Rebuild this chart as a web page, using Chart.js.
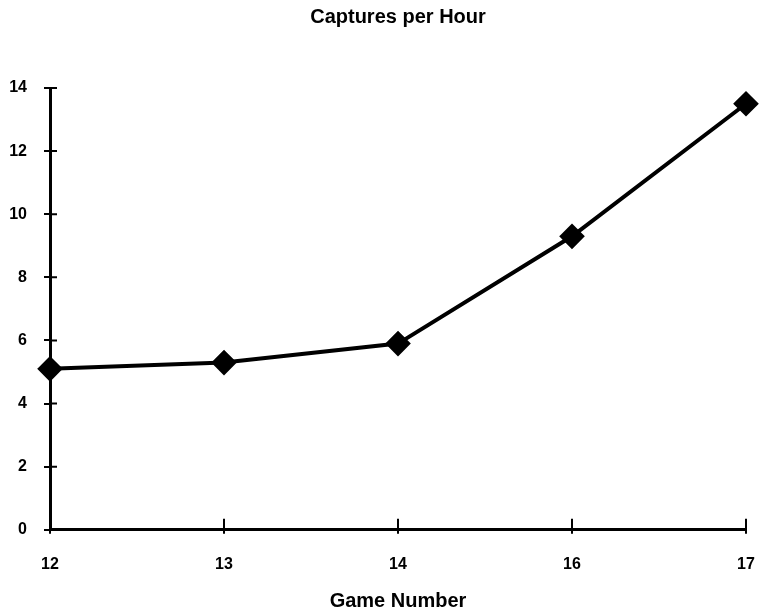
<!DOCTYPE html>
<html>
<head>
<meta charset="utf-8">
<script src="https://cdn.jsdelivr.net/npm/chart.js@4/dist/chart.umd.min.js"></script>
<style>
  html, body { margin: 0; padding: 0; background: #fff; }
  #wrap { width: 760px; height: 613px; position: relative; }
</style>
</head>
<body>
<div id="wrap"><canvas id="capChart"></canvas></div>
<script>
const gameNumbers = ['12', '13', '14', '16', '17'];
const capturesPerHour = [5.1, 5.3, 5.9, 9.3, 13.5];
const yTicks = [0, 2, 4, 6, 8, 10, 12, 14];

// x tick marks cross the axis line, y ones poke inside too
const crossTicks = {
    id: 'crossTicks',
    afterDraw(chart) {
        const ctx = chart.ctx;
        const area = chart.chartArea;
        const xs = chart.scales.x;
        const ys = chart.scales.y;
        ctx.save();
        ctx.strokeStyle = '#000';
        ctx.lineWidth = 2;
        ctx.beginPath();
        xs.ticks.forEach((t, i) => {
            const px = xs.getPixelForTick(i);
            ctx.moveTo(px, area.bottom + 4);
            ctx.lineTo(px, area.bottom - 11);
        });
        ys.ticks.forEach((t, i) => {
            const py = ys.getPixelForTick(i);
            ctx.moveTo(area.left, py);
            ctx.lineTo(area.left + 7, py);
        });
        ctx.stroke();
        ctx.restore();
    }
};

const font = { family: '"Liberation Sans", Arial, sans-serif', weight: 'bold' };

new Chart(document.getElementById('capChart'), {
    type: 'line',
    data: {
        labels: gameNumbers,
        datasets: [{
            label: 'Captures per Hour',
            data: capturesPerHour,
            borderColor: '#000',
            backgroundColor: '#000',
            borderWidth: 4,
            pointStyle: 'rectRot',
            pointRadius: 10,
            pointHoverRadius: 10,
            tension: 0
        }]
    },
    options: {
        responsive: true,
        maintainAspectRatio: false,
        animation: false,
        layout: { padding: { top: 0, right: 0, bottom: 0, left: 0 } },
        plugins: {
            legend: { display: false },
            tooltip: { enabled: false }
        },
        scales: {
            // top axis only carries the chart title, so it centres over the plot
            top: {
                type: 'category',
                position: 'top',
                labels: gameNumbers,
                offset: false,
                border: { display: false },
                grid: { display: false, drawTicks: false },
                ticks: { display: false },
                title: {
                    display: true,
                    text: 'Captures per Hour',
                    color: '#000',
                    font: { ...font, size: 20 },
                    padding: { top: 5, bottom: 59 }
                }
            },
            x: {
                type: 'category',
                offset: false,
                afterFit(scale) { scale.paddingRight = 7; },
                border: { color: '#000', width: 3 },
                grid: { drawOnChartArea: false, drawTicks: true, tickLength: 23, tickColor: 'rgba(0,0,0,0)' },
                ticks: { color: '#000', font: { ...font, size: 16 }, padding: 2, maxRotation: 0 },
                title: {
                    display: true,
                    text: 'Game Number',
                    color: '#000',
                    font: { ...font, size: 20 },
                    padding: { top: 13, bottom: 0 }
                }
            },
            y: {
                min: 0,
                max: 14,
                afterBuildTicks(scale) { scale.ticks = yTicks.map(v => ({ value: v })); },
                afterFit(scale) { scale.width = 50; },
                border: { color: '#000', width: 3 },
                grid: { drawOnChartArea: false, drawTicks: true, tickLength: 6, color: '#000', lineWidth: 2 },
                ticks: { color: '#000', font: { ...font, size: 16 }, padding: 17 }
            }
        }
    },
    plugins: [crossTicks]
});
</script>
</body>
</html>
